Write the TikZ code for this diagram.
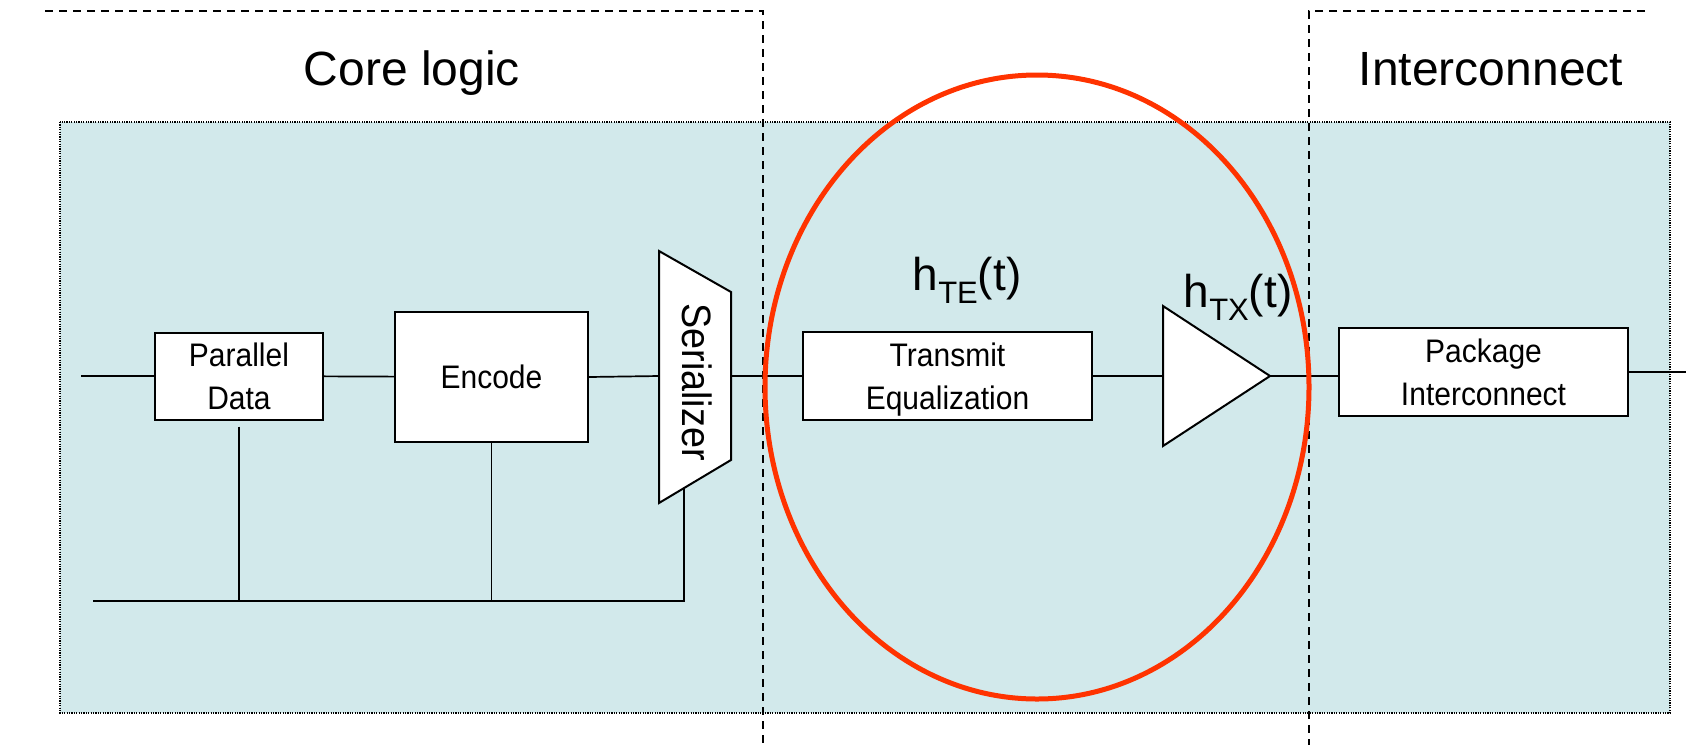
\documentclass[tikz,border=0pt]{standalone}
\usepackage{fontspec}
\setmainfont{Liberation Sans}
\newfontfamily\narrowfont[FakeStretch=0.92]{Liberation Sans}
\usetikzlibrary{calc,positioning}
\definecolor{seInk}{HTML}{000000}
\definecolor{seFill}{HTML}{D2E9EB}
\definecolor{seRing}{HTML}{FF3300}
\tikzset{
 serdes/.style={line cap=butt,line join=miter,text=seInk},
 block/.style={rectangle,draw=seInk,fill=white,line width=1pt,inner sep=0pt,align=center,
   font=\narrowfont\fontsize{16.3}{21.5}\selectfont},
 shell/.style={draw=seInk,fill=white,line width=1pt},
 wire/.style={draw=seInk,line width=.85pt},
 zone/.style={draw=seInk,line width=.7pt,dash pattern=on 4pt off 3pt},
 panel/.style={fill=seFill,draw=seInk,line width=.8pt,dash pattern=on .6pt off .6pt},
 ring/.style={draw=seRing,line width=2.5pt},
 zonetitle/.style={font=\fontsize{24}{28}\selectfont,anchor=base,inner sep=0pt},
 tflabel/.style={font=\fontsize{23}{27}\selectfont,anchor=base,inner sep=0pt}
}
\newcommand{\tfsub}[1]{\lower6.5pt\hbox{\fontsize{15.5}{15.5}\selectfont #1}}

\begin{document}
\begin{tikzpicture}[serdes,x=.5pt,y=-.5pt]
 \useasboundingbox (0,0) rectangle (1686,745);
 \draw[panel] (60,122) rectangle (1670,713);
 \draw[zone] (45,11) -- (763,11) -- (763,745);
 \draw[zone] (1645,11) -- (1309,11) -- (1309,745);
 \node[zonetitle] (core) at (412,85) {Core logic};
 \node[zonetitle] (icn) at (1491,85) {Interconnect};
 % blocks
 \node[block,minimum width=84pt,minimum height=43.5pt] (par) at (239,376) {Parallel\\Data};
 \node[block,minimum width=96.5pt,minimum height=65pt] (enc) at (491.5,377) {Encode};
 \coordinate (serIn) at (659,376); \coordinate (serOut) at (731,376);
 \coordinate (serBot) at (684,488);
 \draw[shell] (659,251) -- (731,292) -- (731,460) -- (659,503) -- cycle;
 \node[rotate=-90,inner sep=0pt,font=\narrowfont\fontsize{20.5}{24}\selectfont] (ser) at (697,382) {Serializer};
 \node[block,minimum width=144.5pt,minimum height=44pt] (teq) at (947.5,376) {\rule{0pt}{15.7pt}Transmit\\Equalization};
 \coordinate (bufIn) at (1163,376); \coordinate (bufTip) at (1270,376);
 \draw[shell] (1163,306) -- (bufTip) -- (1163,446) -- cycle;
 \node[block,minimum width=144.5pt,minimum height=44pt] (pkg) at (1483.5,372) {Package\\Interconnect};
 \node[tflabel] (hte) at (967,290) {h\tfsub{TE}(t)};
 \node[tflabel] (htx) at (1238,307) {h\tfsub{TX}(t)};
 % wires
 \coordinate (din) at (81,376); \coordinate (dout) at (1686,372);
 \coordinate (busL) at (93,601);
 \draw[wire] (din) -- (par.west);
 \draw[wire] (par) -- (enc);
 \draw[wire] (enc.east) -- (serIn);
 \draw[wire] (serOut) -- (teq.west);
 \draw[wire] (teq.east) -- (bufIn);
 \draw[wire] (bufTip) -- (bufTip -| pkg.west);
 \draw[wire] (pkg.east) -- (dout);
 \draw[wire] (busL) -- (busL -| serBot) -- (serBot);
 \draw[wire] ([yshift=-3pt]par.south) -- (par.south |- busL);
 \draw[wire] (enc.south) -- (enc.south |- busL);
 \draw[ring] (1037,387) ellipse [x radius=136pt,y radius=156pt];
\end{tikzpicture}
\end{document}
